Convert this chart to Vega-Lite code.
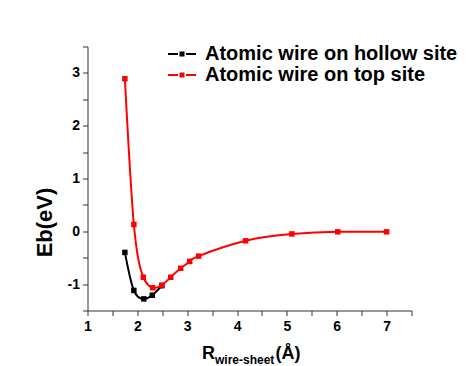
{
  "$schema": "https://vega.github.io/schema/vega-lite/v6.json",
  "width": 324,
  "height": 264,
  "autosize": {"type": "none"},
  "padding": {"left": 87.5, "top": 46.5, "right": 58.5, "bottom": 55.5},
  "background": "white",
  "config": {
    "view": {"stroke": null},
    "font": "Liberation Sans",
    "axis": {
      "domainColor": "#333333",
      "tickColor": "#333333",
      "domainWidth": 1,
      "tickWidth": 1,
      "tickSize": 5,
      "grid": false,
      "labelFont": "Liberation Sans",
      "labelFontSize": 14,
      "labelFontWeight": "bold",
      "labelColor": "black",
      "labelOverlap": false,
      "labelFlush": false,
      "titleFont": "Liberation Sans",
      "titleFontWeight": "bold",
      "titleColor": "black"
    }
  },
  "data": {
    "values": [
      {"series": "Atomic wire on hollow site", "r": 1.75, "e": -0.40},
      {"series": "Atomic wire on hollow site", "r": 1.93, "e": -1.12},
      {"series": "Atomic wire on hollow site", "r": 2.13, "e": -1.28},
      {"series": "Atomic wire on hollow site", "r": 2.30, "e": -1.21},
      {"series": "Atomic wire on hollow site", "r": 2.49, "e": -1.03},
      {"series": "Atomic wire on top site", "r": 1.75, "e": 2.89},
      {"series": "Atomic wire on top site", "r": 1.93, "e": 0.13},
      {"series": "Atomic wire on top site", "r": 2.12, "e": -0.87},
      {"series": "Atomic wire on top site", "r": 2.31, "e": -1.07},
      {"series": "Atomic wire on top site", "r": 2.49, "e": -1.02},
      {"series": "Atomic wire on top site", "r": 2.67, "e": -0.87},
      {"series": "Atomic wire on top site", "r": 2.87, "e": -0.70},
      {"series": "Atomic wire on top site", "r": 3.05, "e": -0.57},
      {"series": "Atomic wire on top site", "r": 3.23, "e": -0.47},
      {"series": "Atomic wire on top site", "r": 4.17, "e": -0.18},
      {"series": "Atomic wire on top site", "r": 5.10, "e": -0.05},
      {"series": "Atomic wire on top site", "r": 6.02, "e": -0.01},
      {"series": "Atomic wire on top site", "r": 7.00, "e": -0.01}
    ]
  },
  "encoding": {
    "y": {
      "field": "e",
      "type": "quantitative",
      "scale": {"domain": [-1.5, 3.5], "nice": false, "zero": false},
      "axis": {
        "values": [-1.5, -1, -0.5, 0, 0.5, 1, 1.5, 2, 2.5, 3, 3.5],
        "labelExpr": "datum.value % 1 === 0 ? (datum.value < 0 ? '-' + abs(datum.value) : '' + datum.value) : ''",
        "labelPadding": 3,
        "title": "Eb(eV)",
        "titleFontSize": 22,
        "titleAngle": 270,
        "titleAlign": "center",
        "titleBaseline": "alphabetic",
        "titleX": -36.5,
        "titleY": 175.5
      }
    }
  },
  "layer": [
    {
      "transform": [{"filter": "datum.series === 'Atomic wire on hollow site'"}],
      "mark": {"type": "line", "color": "black", "strokeWidth": 2, "interpolate": "natural"},
      "encoding": {
        "x": {
          "field": "r",
          "type": "quantitative",
          "scale": {"domain": [1, 7.5], "nice": false, "zero": false},
          "axis": {
            "orient": "bottom",
            "values": [1, 1.5, 2, 2.5, 3, 3.5, 4, 4.5, 5, 5.5, 6, 6.5, 7, 7.5],
            "labelExpr": "datum.value % 1 === 0 ? '' + datum.value : ''",
            "labelPadding": 4,
            "title": "R",
            "titleFontSize": 18,
            "titleAlign": "left",
            "titleBaseline": "alphabetic",
            "titleX": 114,
            "titleY": 48
          }
        }
      }
    },
    {
      "transform": [{"filter": "datum.series === 'Atomic wire on top site'"}],
      "mark": {"type": "line", "color": "#ff0000", "strokeWidth": 2, "interpolate": "natural"},
      "encoding": {
        "x": {
          "field": "r",
          "type": "quantitative",
          "scale": {"domain": [1, 7.5], "nice": false, "zero": false},
          "axis": {
            "orient": "bottom",
            "labels": false,
            "ticks": false,
            "domain": false,
            "title": "wire-sheet",
            "titleFontSize": 12,
            "titleAlign": "left",
            "titleBaseline": "alphabetic",
            "titleX": 127,
            "titleY": 53
          }
        }
      }
    },
    {
      "mark": {"type": "point", "shape": "square", "filled": true, "size": 30, "opacity": 1},
      "encoding": {
        "x": {
          "field": "r",
          "type": "quantitative",
          "scale": {"domain": [1, 7.5], "nice": false, "zero": false},
          "axis": {
            "orient": "bottom",
            "labels": false,
            "ticks": false,
            "domain": false,
            "title": "(Å)",
            "titleFontSize": 18,
            "titleAlign": "left",
            "titleBaseline": "alphabetic",
            "titleX": 187.5,
            "titleY": 48
          }
        },
        "color": {
          "field": "series",
          "type": "nominal",
          "scale": {
            "domain": ["Atomic wire on hollow site", "Atomic wire on top site"],
            "range": ["#000000", "#ff0000"]
          },
          "legend": {
            "title": null,
            "orient": "none",
            "legendX": 84.5,
            "legendY": -2.5,
            "padding": 0,
            "symbolType": "M-2,-0.143H-0.571V0.143H-2Z M-0.357,-0.357H0.357V0.357H-0.357Z M0.571,-0.143H2V0.143H0.571Z",
            "symbolSize": 196,
            "symbolStrokeWidth": 0,
            "symbolOpacity": 1,
            "labelFont": "Liberation Sans",
            "labelFontSize": 20,
            "labelFontWeight": "bold",
            "labelColor": "black",
            "labelOffset": 13,
            "labelLimit": 400,
            "rowPadding": 1
          }
        }
      }
    }
  ],
  "resolve": {"axis": {"x": "independent"}}
}
